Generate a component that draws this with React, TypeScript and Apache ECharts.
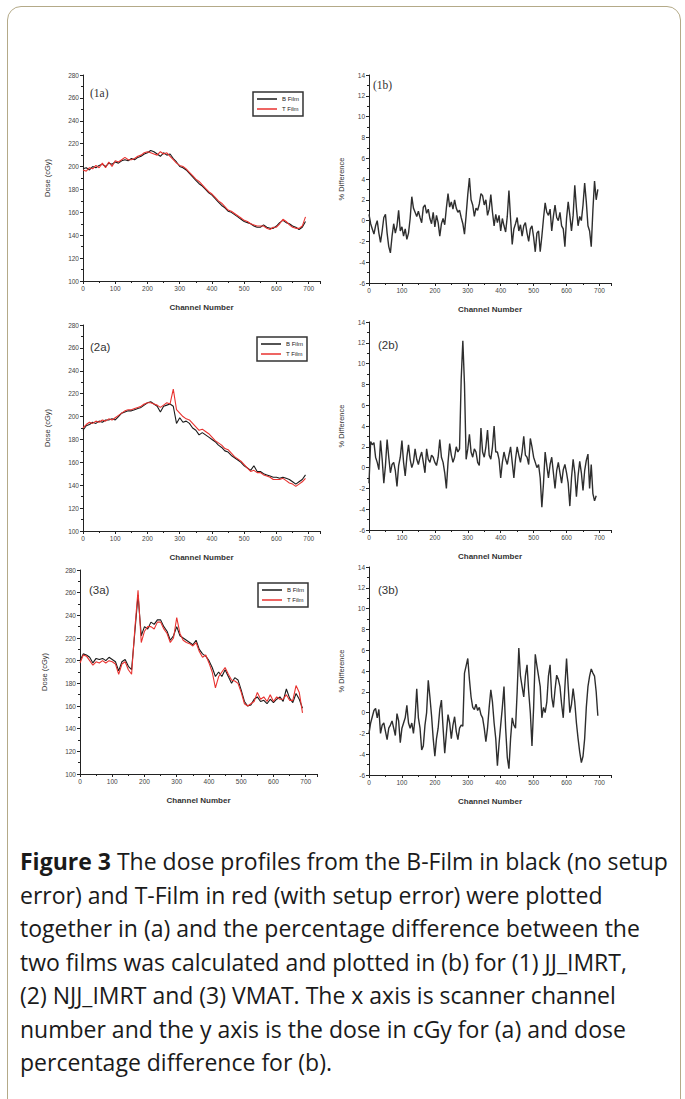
import React, { useEffect, useRef } from "react";
import * as echarts from "echarts";

// ---- data -------------------------------------------------------------
const STEP_A = 10; // channel spacing of dose profiles
const STEP_B = 5; // channel spacing of % difference profiles

const DOSE_1A_BFILM = [198,199,197,200,199,201,202,200,203,202,204,203,205,206,205,207,206,208,209,211,212,214,213,211,209,212,210,211,207,204,200,199,197,194,191,188,185,183,180,177,175,172,169,166,164,161,160,158,156,154,152,151,150,148,147,147,149,147,146,146,148,151,153,151,150,148,147,145,147,152];
const DOSE_1A_TFILM = [197,196,199,198,201,199,203,199,204,200,205,204,206,208,206,206,207,209,210,212,213,212,211,210,213,211,212,209,206,203,201,200,198,195,192,189,187,184,181,178,176,173,170,168,165,162,161,159,157,155,153,152,150,149,148,148,148,146,145,147,147,150,154,152,149,147,146,146,148,156];

const DOSE_2A_BFILM = [188,192,193,195,194,196,195,197,197,198,197,200,203,204,205,205,206,207,208,210,212,213,211,209,204,209,210,211,209,194,199,195,196,194,190,188,184,186,184,182,180,178,175,173,170,169,166,164,162,160,157,155,153,157,152,152,150,149,148,147,147,146,147,146,145,143,141,143,145,149];
const DOSE_2A_TFILM = [190,193,195,194,196,195,197,196,198,197,199,201,203,205,206,206,207,208,209,211,212,212,211,210,208,210,212,211,224,206,203,200,198,197,194,191,188,189,187,185,182,179,177,175,172,171,168,165,163,161,158,155,152,153,151,151,149,148,147,145,145,145,146,144,142,141,139,141,143,146];

const DOSE_3A_BFILM = [200,206,205,203,198,202,201,202,200,203,201,199,191,199,201,195,192,225,258,222,230,228,234,232,236,236,230,226,218,222,230,222,220,218,216,214,218,210,206,204,200,194,186,190,186,192,186,180,185,183,174,164,160,161,166,168,164,165,162,166,163,166,168,164,175,167,163,171,166,158];
const DOSE_3A_TFILM = [198,205,204,200,196,199,198,200,198,200,199,197,188,197,199,192,188,228,262,216,226,230,230,228,234,234,228,224,216,220,238,224,218,216,215,213,216,208,203,205,198,190,176,186,190,194,188,183,182,180,172,162,160,162,164,172,166,168,164,170,164,168,166,166,170,165,165,178,172,154];

const DIFF_1B = [0.6,-0.3,-0.8,-1.3,-0.5,0,-1.2,-2.1,-1,0.3,0.6,-1.2,-2.5,-3.1,-1.5,-0.3,-1.2,-0.5,1,-1,-0.6,-1.5,-0.8,-1.8,-1.2,0.2,2.3,1.2,0.8,0.4,0.9,0.3,-0.2,1.3,1.5,0.7,1.1,0.2,-0.3,0.8,-0.6,0.5,-0.2,-1.5,-0.3,0.2,-0.4,1.2,2.6,1.3,1.8,1.1,2,1.2,0.8,1,0.3,-0.3,-1.3,0.5,2.5,4.1,2,1.5,0.4,1.2,1,1.6,2.6,2.4,1.5,2,0.5,1.1,2.5,0.8,-0.5,0.6,-0.2,0.5,-1,0.2,-0.5,-1.1,0.4,2.9,0.2,-2.3,-0.8,-0.3,0.3,-1,-0.4,-1.5,-0.5,-0.2,-1.2,-2,-0.8,-0.5,-1.6,-3,-1.2,-1,-3,-1.5,0.2,1.7,0.8,0.5,1.1,-1,0.4,1.5,0.3,0,0.8,-0.5,-0.8,-2.5,0.2,1.8,0.5,-1,0.5,3.4,1.2,-0.5,0.4,0,1.5,3.6,1.8,-0.5,-1,-2.5,1,3.8,2,3];

const DIFF_2B = [-1.5,2.5,2.2,2.4,1,0.5,-0.2,2.6,0.8,-1.5,0.2,2.7,1,-0.5,0.3,0.5,-0.3,-1.8,0.2,1,2.6,0.5,-0.8,1,2.2,0.8,0,0.5,1.8,0.8,0.3,1,1.5,0.5,-0.5,1.8,0.8,0.5,1.2,1,0.5,0.2,1,2.7,1,0.5,-0.5,-2,0.5,2.3,1.2,0.5,1,2,1.5,1.8,8.5,12.2,8,0.8,1.8,3.2,1.5,1,1.8,1.5,0.5,0.2,3.8,1.5,1,2,3.6,1.2,0.8,2,4,1.5,1.5,0.8,-1,0.5,1.5,0.8,0.3,1.2,2,0.5,-1,0.8,2,1.2,0.5,1.5,3,1.2,1,0.3,2.8,2,1,0.5,0,0.3,-1,-3.8,-1.5,1.5,0.2,-1,0.3,1,-0.5,-2,-0.3,0.5,-0.5,-1.5,-0.2,0.3,-0.5,-1.5,-3.7,-1,0.8,-0.5,-2.8,-0.8,0.6,-0.5,-2.2,-0.3,0.7,1.3,-2,0.3,-2.5,-3.2,-2.7];

const DIFF_3B = [-2,-1,-0.4,0.2,0.4,-0.5,0.3,-2,-1.2,-1,-1.8,-2.6,-1.5,-1.2,-0.8,-1.5,-2.2,-0.1,-0.8,-2.9,-1.5,-1,-0.5,0.7,-1,-1.5,-1,-2,-0.5,2.3,-0.5,-1.5,-3.6,-3.2,-1.2,0,3.1,1.5,-0.3,-2.5,-4.2,-2.5,-1.5,0.3,1.2,-1.5,-3.9,-2,-0.2,-1,-2.5,-1.2,-0.4,-1.8,-2.6,-1.5,-1.2,-1.3,3.8,4.5,5.2,3.2,1.5,0.5,0.3,0.8,0.2,0.5,-0.2,-0.5,-1.5,-2.8,-1.5,0.5,2.2,1,-1,-2.5,-5.1,-3,-1.2,0.5,2.5,-1.5,-4.3,-5.4,-2.5,-0.5,-1.2,-1.5,2,6.2,3.5,2.5,1.5,3.5,4.6,2,0,-3.2,0.5,5.6,4.5,3.5,2.5,-0.5,0.5,0,1,3.5,4.6,1.5,0.5,2.2,3.6,3.2,2.5,0.8,-0.5,2.5,5.2,2.5,0,0.8,2.3,1,-1,-2.5,-3.8,-4.8,-4.2,-2.5,0.5,2.5,3.5,4.2,3.8,3.5,2,-0.3];

const LEGEND_NAMES = ["B Film", "T Film"];
const PANEL_LABELS = ["(1a)", "(1b)", "(2a)", "(2b)", "(3a)", "(3b)"];
const X_NAME = "Channel Number";
const Y_NAME_A = "Dose (cGy)";
const Y_NAME_B = "% Difference";
const CAPTION_LINES = [
  "The dose profiles from the B-Film in black (no setup",
  "error) and T-Film in red (with setup error) were plotted",
  "together in (a) and the percentage difference between the",
  "two films was calculated and plotted in (b) for (1) JJ_IMRT,",
  "(2) NJJ_IMRT and (3) VMAT. The x axis is scanner channel",
  "number and the y axis is the dose in cGy for (a) and dose",
  "percentage difference for (b).",
];
const CAPTION_TITLE = "Figure 3";

const toPairs = (vals: number[], step: number) => vals.map((v, i) => [i * step, v]);

// ---- layout -----------------------------------------------------------
const GRIDS = [
  { left: 83, top: 75, width: 237, height: 206 },
  { left: 369, top: 75, width: 242, height: 208 },
  { left: 83, top: 325, width: 237, height: 206 },
  { left: 369, top: 322, width: 242, height: 208 },
  { left: 80, top: 570, width: 237, height: 204 },
  { left: 369, top: 567, width: 242, height: 208 },
];
const LABEL_POS = [
  { x: 90, y: 93, serif: true },
  { x: 373, y: 85, serif: true },
  { x: 90, y: 347, serif: false },
  { x: 378, y: 345, serif: false },
  { x: 89, y: 590, serif: false },
  { x: 378, y: 590, serif: false },
];
const LEGEND_POS = [
  { left: 253, top: 92 },
  { left: 257, top: 337 },
  { left: 258, top: 583 },
];

const FONT = "'Liberation Sans', Arial, sans-serif";

export default function App() {
  const ref = useRef<HTMLDivElement>(null);

  useEffect(() => {
    if (!ref.current) return;
    const chart = echarts.init(ref.current, undefined, { renderer: "svg" });

    const axisCommon = {
      axisLine: { show: true, onZero: false, lineStyle: { color: "#222", width: 1 } },
      axisTick: { show: true, inside: false, length: 3, lineStyle: { color: "#222" } },
      minorTick: { show: true, splitNumber: 2, length: 2, lineStyle: { color: "#222" } },
      splitLine: { show: false },
      nameTextStyle: { fontSize: 8, color: "#333", fontFamily: FONT, fontWeight: "bold" as const },
    };

    const xAxis = GRIDS.map((_, i) => ({
      ...axisCommon,
      type: "value",
      gridIndex: i,
      min: 0,
      max: 735,
      interval: 100,
      name: X_NAME,
      nameLocation: "middle",
      nameGap: 22,
      axisLabel: {
        fontSize: 6.5,
        color: "#444",
        fontFamily: FONT,
        margin: 4,
        showMaxLabel: false,
      },
    }));

    const yAxis = GRIDS.map((_, i) => {
      const isA = i % 2 === 0;
      return {
        ...axisCommon,
        type: "value",
        gridIndex: i,
        min: isA ? 100 : -6,
        max: isA ? 280 : 14,
        interval: isA ? 20 : 2,
        name: isA ? Y_NAME_A : Y_NAME_B,
        nameLocation: "middle",
        nameGap: isA ? 32 : 24,
        nameTextStyle: { fontSize: 7.5, color: "#333", fontFamily: FONT },
        axisLabel: { fontSize: 6.5, color: "#444", fontFamily: FONT, margin: 4 },
      };
    });

    const blackLine = (name: string, data: number[][], idx: number) => ({
      type: "line",
      name,
      xAxisIndex: idx,
      yAxisIndex: idx,
      data,
      showSymbol: false,
      symbol: "none",
      color: "#1a1a1a",
      lineStyle: { color: "#1a1a1a", width: 1.1 },
    });
    const redLine = (name: string, data: number[][], idx: number) => ({
      type: "line",
      name,
      xAxisIndex: idx,
      yAxisIndex: idx,
      data,
      showSymbol: false,
      symbol: "none",
      color: "#e8322f",
      lineStyle: { color: "#e8322f", width: 1.1 },
    });
    const diffLine = (data: number[][], idx: number) => ({
      type: "line",
      name: "diff" + idx,
      xAxisIndex: idx,
      yAxisIndex: idx,
      data,
      showSymbol: false,
      symbol: "none",
      color: "#333",
      lineStyle: { color: "#2e2e2e", width: 1.4 },
    });

    const series = [
      blackLine(LEGEND_NAMES[0], toPairs(DOSE_1A_BFILM, STEP_A), 0),
      redLine(LEGEND_NAMES[1], toPairs(DOSE_1A_TFILM, STEP_A), 0),
      diffLine(toPairs(DIFF_1B, STEP_B), 1),
      blackLine(LEGEND_NAMES[0], toPairs(DOSE_2A_BFILM, STEP_A), 2),
      redLine(LEGEND_NAMES[1], toPairs(DOSE_2A_TFILM, STEP_A), 2),
      diffLine(toPairs(DIFF_2B, STEP_B), 3),
      blackLine(LEGEND_NAMES[0], toPairs(DOSE_3A_BFILM, STEP_A), 4),
      redLine(LEGEND_NAMES[1], toPairs(DOSE_3A_TFILM, STEP_A), 4),
      diffLine(toPairs(DIFF_3B, STEP_B), 5),
    ];

    const legend = LEGEND_POS.map((p) => ({
      left: p.left,
      top: p.top,
      orient: "vertical",
      data: LEGEND_NAMES,
      icon: "rect",
      itemWidth: 20,
      itemHeight: 1.5,
      itemGap: 4,
      padding: [4, 4, 4, 4],
      borderColor: "#333",
      borderWidth: 1.5,
      backgroundColor: "#fff",
      selectedMode: false,
      textStyle: { fontSize: 6, color: "#222", fontFamily: FONT },
    }));

    const graphic = PANEL_LABELS.map((t, i) => ({
      type: "text",
      x: LABEL_POS[i].x,
      y: LABEL_POS[i].y,
      style: {
        text: t,
        fontSize: 11.5,
        fill: "#333",
        fontFamily: LABEL_POS[i].serif ? "'Liberation Serif', serif" : FONT,
        verticalAlign: "middle",
        align: "left",
      },
    }));

    chart.setOption({
      animation: false,
      backgroundColor: "transparent",
      grid: GRIDS.map((g) => ({ ...g, containLabel: false })),
      xAxis,
      yAxis,
      series,
      legend,
      graphic,
    });

    return () => chart.dispose();
  }, []);

  return (
    <div
      style={{
        position: "absolute",
        left: 0,
        top: 0,
        width: 685,
        height: 1099,
        overflow: "hidden",
        background: "#fff",
      }}
    >
      <div
        style={{
          position: "absolute",
          left: 7,
          top: 6,
          width: 672,
          height: 1200,
          border: "1.5px solid #b4aa88",
          borderRadius: 14,
        }}
      />
      <div ref={ref} style={{ position: "absolute", left: 0, top: 0, width: 685, height: 830 }} />
      <div
        style={{
          position: "absolute",
          left: 20,
          top: 845,
          fontFamily: "'Open Sans', Lato, sans-serif",
          fontSize: 23,
          lineHeight: "33.5px",
          color: "#1a1a1a",
          whiteSpace: "nowrap",
        }}
      >
        {CAPTION_LINES.map((line, i) => (
          <div key={i}>
            {i === 0 ? <b>{CAPTION_TITLE} </b> : null}
            {line}
          </div>
        ))}
      </div>
    </div>
  );
}
